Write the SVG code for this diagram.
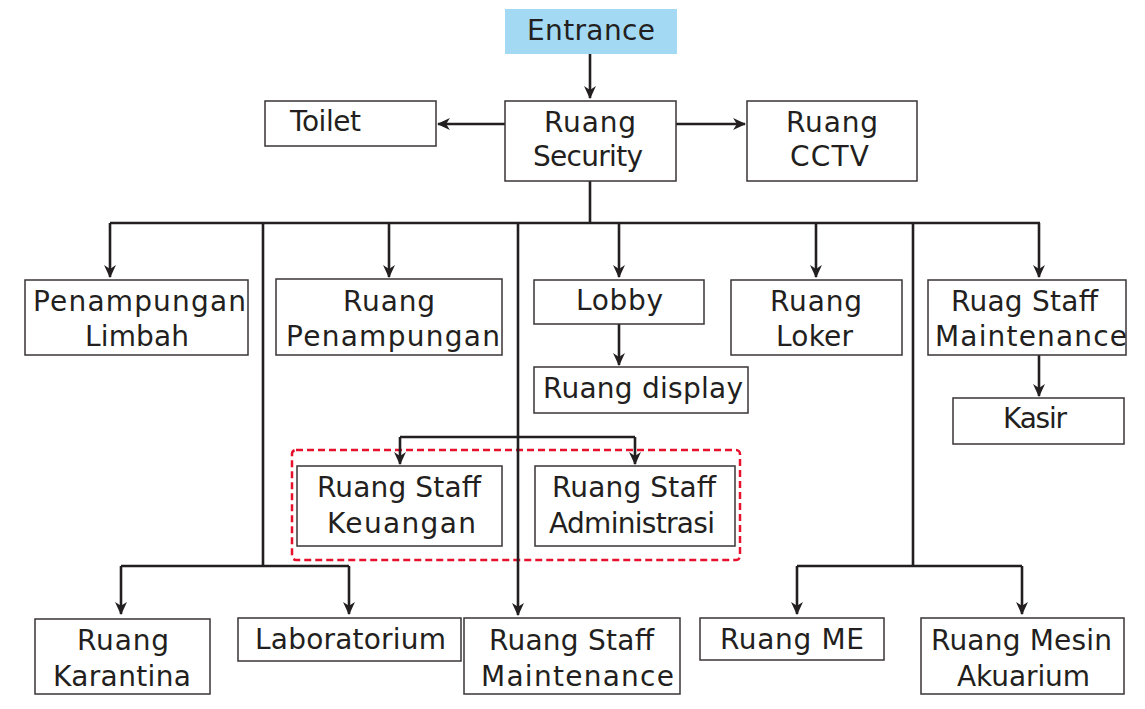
<svg xmlns="http://www.w3.org/2000/svg" width="1145" height="709" viewBox="0 0 1145 709">
<style>
.box{fill:#fff;stroke:#3a3536;stroke-width:1.5}
.ent{fill:#a3d9f3;stroke:none}
.t{font-family:"DejaVu Sans",sans-serif;font-size:28px;fill:#231f20;text-anchor:middle}
.c{fill:none;stroke:#231f20;stroke-width:2.6}
.a{marker-end:url(#ah)}
.grp{fill:none;stroke:#e8112d;stroke-width:2.5;stroke-dasharray:7 4}
</style>
<defs>
<marker id="ah" markerUnits="userSpaceOnUse" viewBox="0 0 12 12" markerWidth="13" markerHeight="13" refX="11" refY="6" orient="auto">
<path d="M0,0.5 L12,6 L0,11.5 L3.5,6 z" fill="#231f20"/>
</marker>
</defs>
<rect id="group-staff" class="grp" x="292" y="450" width="448" height="110" rx="4"/>
<g id="connectors">
<path class="c a" d="M590,54 V98"/>
<path class="c a" d="M505,124 H438"/>
<path class="c a" d="M676,124 H745"/>
<path class="c" d="M590,181 V223 M110,223 H1040"/>
<path class="c a" d="M110,223 V277"/>
<path class="c a" d="M389,223 V277"/>
<path class="c a" d="M619,223 V277"/>
<path class="c a" d="M816,223 V277"/>
<path class="c a" d="M1039,223 V277"/>
<path class="c a" d="M619,324 V365"/>
<path class="c a" d="M1039,355 V396"/>
<path class="c" d="M263,223 V566 M121,566 H349"/>
<path class="c a" d="M121,566 V614"/>
<path class="c a" d="M349,566 V614"/>
<path class="c a" d="M518,223 V615"/>
<path class="c" d="M400,437 H635"/>
<path class="c a" d="M400,437 V464"/>
<path class="c a" d="M635,437 V464"/>
<path class="c" d="M913,223 V566 M797,566 H1022"/>
<path class="c a" d="M797,566 V614"/>
<path class="c a" d="M1022,566 V614"/>
</g>
<g id="entrance"><rect class="ent" x="505" y="9" width="172" height="45"/><text class="t" x="591" y="40" textLength="128" lengthAdjust="spacing">Entrance</text></g>
<g id="toilet"><rect class="box" x="265" y="101" width="171" height="45"/><text class="t" x="325.5" y="131" textLength="71" lengthAdjust="spacing">Toilet</text></g>
<g id="security"><rect class="box" x="505" y="101" width="171" height="80"/><text class="t" x="590" y="132" textLength="92" lengthAdjust="spacing">Ruang</text><text class="t" x="588" y="166" textLength="110" lengthAdjust="spacing">Security</text></g>
<g id="cctv"><rect class="box" x="747" y="101" width="170" height="80"/><text class="t" x="832" y="132" textLength="92" lengthAdjust="spacing">Ruang</text><text class="t" x="829.5" y="166" textLength="79" lengthAdjust="spacing">CCTV</text></g>
<g id="penampungan-limbah"><rect class="box" x="25" y="280" width="223" height="75"/><text class="t" x="139.5" y="311" textLength="213" lengthAdjust="spacing">Penampungan</text><text class="t" x="137" y="346" textLength="104" lengthAdjust="spacing">Limbah</text></g>
<g id="ruang-penampungan"><rect class="box" x="276" y="279" width="226" height="76"/><text class="t" x="389" y="311" textLength="92" lengthAdjust="spacing">Ruang</text><text class="t" x="393" y="346" textLength="214" lengthAdjust="spacing">Penampungan</text></g>
<g id="lobby"><rect class="box" x="534" y="280" width="170" height="44"/><text class="t" x="619.5" y="310" textLength="87" lengthAdjust="spacing">Lobby</text></g>
<g id="ruang-display"><rect class="box" x="534" y="367" width="214" height="46"/><text class="t" x="643" y="398" textLength="200" lengthAdjust="spacing">Ruang display</text></g>
<g id="ruang-loker"><rect class="box" x="731" y="280" width="171" height="75"/><text class="t" x="816" y="311" textLength="92" lengthAdjust="spacing">Ruang</text><text class="t" x="814.5" y="346" textLength="77" lengthAdjust="spacing">Loker</text></g>
<g id="ruag-staff-maintenance"><rect class="box" x="928" y="280" width="198" height="75"/><text class="t" x="1024.5" y="311" textLength="147" lengthAdjust="spacing">Ruag Staff</text><text class="t" x="1031" y="346" textLength="192" lengthAdjust="spacing">Maintenance</text></g>
<g id="kasir"><rect class="box" x="953" y="398" width="171" height="46"/><text class="t" x="1035" y="428" textLength="64" lengthAdjust="spacing">Kasir</text></g>
<g id="staff-keuangan"><rect class="box" x="297" y="466" width="205" height="80"/><text class="t" x="399" y="497" textLength="164" lengthAdjust="spacing">Ruang Staff</text><text class="t" x="401.5" y="533" textLength="149" lengthAdjust="spacing">Keuangan</text></g>
<g id="staff-administrasi"><rect class="box" x="535" y="466" width="200" height="80"/><text class="t" x="634" y="497" textLength="164" lengthAdjust="spacing">Ruang Staff</text><text class="t" x="632" y="533" textLength="166" lengthAdjust="spacing">Administrasi</text></g>
<g id="ruang-karantina"><rect class="box" x="35" y="619" width="175" height="75"/><text class="t" x="123" y="650" textLength="92" lengthAdjust="spacing">Ruang</text><text class="t" x="122" y="686" textLength="138" lengthAdjust="spacing">Karantina</text></g>
<g id="laboratorium"><rect class="box" x="238" y="618" width="223" height="43"/><text class="t" x="350.5" y="649" textLength="191" lengthAdjust="spacing">Laboratorium</text></g>
<g id="staff-maintenance"><rect class="box" x="464" y="618" width="216" height="76"/><text class="t" x="571.5" y="650" textLength="165" lengthAdjust="spacing">Ruang Staff</text><text class="t" x="577.5" y="686" textLength="193" lengthAdjust="spacing">Maintenance</text></g>
<g id="ruang-me"><rect class="box" x="700" y="618" width="184" height="42"/><text class="t" x="792" y="649" textLength="144" lengthAdjust="spacing">Ruang ME</text></g>
<g id="ruang-mesin-akuarium"><rect class="box" x="921" y="618" width="203" height="76"/><text class="t" x="1021.5" y="650" textLength="181" lengthAdjust="spacing">Ruang Mesin</text><text class="t" x="1023.5" y="686" textLength="133" lengthAdjust="spacing">Akuarium</text></g>
</svg>
